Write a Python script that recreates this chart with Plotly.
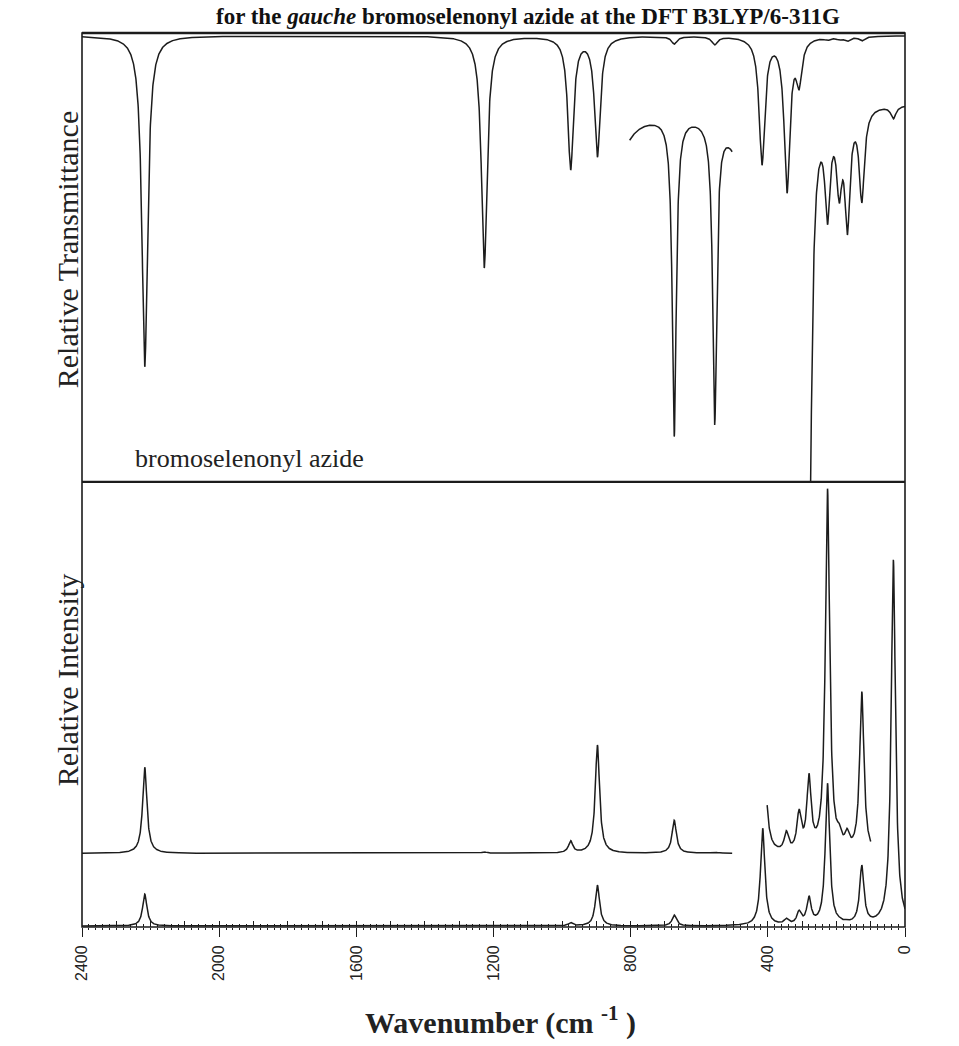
import numpy as np
import plotly.graph_objects as go

# ---------------- data ----------------
# Top panel (IR, relative transmittance). Main trace 2400 -> 0 cm-1
ir_bands_cm = [2217, 1227, 975, 897, 673, 555, 417, 344, 309, 226, 192, 168, 126]
ir_min_T    = [0.259, 0.481, 0.701, 0.730, 0.984, 0.982, 0.712, 0.649, 0.881, 0.992, 0.993, 0.990, 0.991]
ir_base_T   = 1.003
ir_span_cm  = [2400, 0]

# expanded IR segment 803 -> 504 cm-1
irA_bands_cm = [897, 673, 555, 417]
irA_obs_cm   = [803, 673, 555, 504]
irA_obs_T    = [0.768, 0.102, 0.128, 0.742]
irA_base_T   = 0.84
irA_span_cm  = [803, 504]

# expanded IR segment 295 -> 0 cm-1
irB_bands_cm = [293, 280, 226, 192, 168, 126, 34]
irB_obs_T    = [-0.3, -0.3, 0.578, 0.626, 0.555, 0.627, 0.816]
irB_base_T   = 0.85
irB_span_cm  = [295, 0]

# Bottom panel (Raman, relative intensity). Lower trace 2400 -> 0 cm-1
ra_bands_cm = [2217, 1227, 975, 897, 673, 555, 415, 346, 309, 280, 226, 192, 169, 126, 34]
ra_peak_I   = [0.074, 0.003, 0.010, 0.094, 0.027, 0.002, 0.222, 0.020, 0.038, 0.070, 0.323, 0.023, 0.017, 0.139, 0.825]
ra_base_I   = 0.002
ra_span_cm  = [2400, 0]

# offset Raman trace, first part 2400 -> 504 cm-1
rb1_bands_cm = [2217, 1227, 975, 897, 673, 555]
rb1_peak_I   = [0.359, 0.169, 0.194, 0.409, 0.240, 0.169]
rb1_base_I   = 0.1655
rb1_span_cm  = [2400, 504]

# offset Raman trace, expanded part 402 -> 100 cm-1
rb2_bands_cm = [415, 346, 309, 280, 226, 192, 169, 126]
rb2_obs_cm   = [402, 346, 309, 280, 226, 192, 169, 126]
rb2_obs_I    = [0.274, 0.2165, 0.2652, 0.3452, 0.985, 0.233, 0.2218, 0.529]
rb2_base_I   = 0.16
rb2_span_cm  = [402, 100]

x_tick_vals = [2400, 2000, 1600, 1200, 800, 400, 0]
x_tick_text = ["2400", "2000", "1600", "1200", "800", "400", "0"]

GAMMA_IR = 10.0
GAMMA_IR_A = 7.0
GAMMA_IR_B = 9.0
GAMMA_RA = 7.5


def profile_matrix(points, centres, gamma):
    p = np.asarray(points, float)[:, None]
    c = np.asarray(centres, float)[None, :]
    return 1.0 / (1.0 + ((p - c) / gamma) ** 2)


def band_curve(span, centres, obs_cm, obs_excess, gamma):
    amps = np.linalg.solve(profile_matrix(obs_cm, centres, gamma), np.asarray(obs_excess, float))
    w = np.linspace(span[0], span[1], int(abs(span[0] - span[1]) * 2) + 1)
    return w, profile_matrix(w, centres, gamma) @ amps


# IR traces (transmittance = base - absorption)
w_ir, a_ir = band_curve(ir_span_cm, ir_bands_cm, ir_bands_cm,
                        [ir_base_T - t for t in ir_min_T], GAMMA_IR)
w_irA, a_irA = band_curve(irA_span_cm, irA_bands_cm, irA_obs_cm,
                          [irA_base_T - t for t in irA_obs_T], GAMMA_IR_A)
w_irB, a_irB = band_curve(irB_span_cm, irB_bands_cm, irB_bands_cm,
                          [irB_base_T - t for t in irB_obs_T], GAMMA_IR_B)
# Raman traces
w_ra, i_ra = band_curve(ra_span_cm, ra_bands_cm, ra_bands_cm,
                        [v - ra_base_I for v in ra_peak_I], GAMMA_RA)
w_rb1, i_rb1 = band_curve(rb1_span_cm, rb1_bands_cm, rb1_bands_cm,
                          [v - rb1_base_I for v in rb1_peak_I], GAMMA_RA)
w_rb2, i_rb2 = band_curve(rb2_span_cm, rb2_bands_cm, rb2_obs_cm,
                          [v - rb2_base_I for v in rb2_obs_I], GAMMA_RA)

INK = "#1c1c1c"
LINE = dict(color=INK, width=1.5)

fig = go.Figure()
fig.add_trace(go.Scatter(x=w_ir, y=ir_base_T - a_ir, mode="lines", line=LINE, xaxis="x2", yaxis="y2"))
fig.add_trace(go.Scatter(x=w_irA, y=irA_base_T - a_irA, mode="lines", line=LINE, xaxis="x2", yaxis="y2"))
fig.add_trace(go.Scatter(x=w_irB, y=irB_base_T - a_irB, mode="lines", line=LINE, xaxis="x2", yaxis="y2"))
fig.add_trace(go.Scatter(x=w_ra, y=ra_base_I + i_ra, mode="lines", line=LINE, xaxis="x", yaxis="y"))
fig.add_trace(go.Scatter(x=w_rb1, y=rb1_base_I + i_rb1, mode="lines", line=LINE, xaxis="x", yaxis="y"))
fig.add_trace(go.Scatter(x=w_rb2, y=rb2_base_I + i_rb2, mode="lines", line=LINE, xaxis="x", yaxis="y"))
# carrier for the inner tick axis (drawn outside the visible y range)
fig.add_trace(go.Scatter(x=[2400, 0], y=[-5, -5], mode="lines", line=dict(width=0, color=INK),
                         xaxis="x3", yaxis="y", hoverinfo="skip"))

SPLIT = 0.4978
SERIF = "Liberation Serif, Times New Roman, serif"

fig.update_layout(
    width=959, height=1046,
    margin=dict(l=82, r=54, t=33, b=119),
    paper_bgcolor="white", plot_bgcolor="white",
    showlegend=False,
    xaxis=dict(domain=[0, 1], range=[2400, 0], anchor="y",
               tickmode="array", tickvals=x_tick_vals, ticktext=x_tick_text,
               ticks="outside", ticklen=9, tickwidth=1.2, tickcolor=INK,
               tickangle=-90, ticklabelstandoff=2,
               tickfont=dict(family="Liberation Sans, Arial, sans-serif", size=16, color="#222"),
               minor=dict(dtick=20, tick0=0, ticks="outside", ticklen=2, tickwidth=1, tickcolor=INK),
               showgrid=False, zeroline=False, showline=False),
    xaxis3=dict(range=[2400, 0], overlaying="x", anchor="y", side="bottom",
                tick0=0, dtick=100, ticks="inside", ticklen=6, tickwidth=1.1, tickcolor=INK,
                minor=dict(dtick=20, tick0=0, ticks="inside", ticklen=3, tickwidth=1, tickcolor=INK),
                showticklabels=False, showgrid=False, zeroline=False, showline=False),
    yaxis=dict(domain=[0, SPLIT], range=[0, 1], showticklabels=False, ticks="",
               showgrid=False, zeroline=False, showline=False),
    xaxis2=dict(domain=[0, 1], range=[2400, 0], anchor="y2", showticklabels=False, ticks="",
                showgrid=False, zeroline=False, showline=False),
    yaxis2=dict(domain=[SPLIT, 1], range=[0, 1.009], anchor="x2", showticklabels=False, ticks="",
                showgrid=False, zeroline=False, showline=False),
)

# frame
fig.add_shape(type="rect", xref="paper", yref="paper", x0=0, x1=1, y0=0, y1=1,
              line=dict(color=INK, width=1.6))
fig.add_shape(type="line", xref="paper", yref="paper", x0=0, x1=1, y0=1, y1=1,
              line=dict(color=INK, width=2.4))
fig.add_shape(type="line", xref="paper", yref="paper", x0=0, x1=1, y0=SPLIT, y1=SPLIT,
              line=dict(color=INK, width=2.2))

fig.add_annotation(text="for the <i>gauche</i> bromoselenonyl azide at the DFT B3LYP/6-311G",
                   xref="paper", yref="paper", x=0.542, y=1.019, xanchor="center", yanchor="middle",
                   showarrow=False, font=dict(family=SERIF, size=23, color="#111", weight="bold"))
fig.add_annotation(text="Relative Transmittance", xref="paper", yref="paper", x=-0.0182, y=0.757,
                   textangle=-90, showarrow=False, xanchor="center", yanchor="middle",
                   font=dict(family=SERIF, size=30, color="#222"))
fig.add_annotation(text="Relative Intensity", xref="paper", yref="paper", x=-0.0182, y=0.276,
                   textangle=-90, showarrow=False, xanchor="center", yanchor="middle",
                   font=dict(family=SERIF, size=30, color="#222"))
fig.add_annotation(text="bromoselenonyl azide", xref="paper", yref="paper", x=0.062, y=0.5246,
                   xanchor="left", yanchor="middle", showarrow=False,
                   font=dict(family=SERIF, size=26, color="#222"))
fig.add_annotation(text="Wavenumber (cm <sup>-1</sup> )", xref="paper", yref="paper",
                   x=0.509, y=-0.105, xanchor="center", yanchor="middle", showarrow=False,
                   font=dict(family=SERIF, size=30, color="#222", weight="bold"))

fig.write_html("out.html")
